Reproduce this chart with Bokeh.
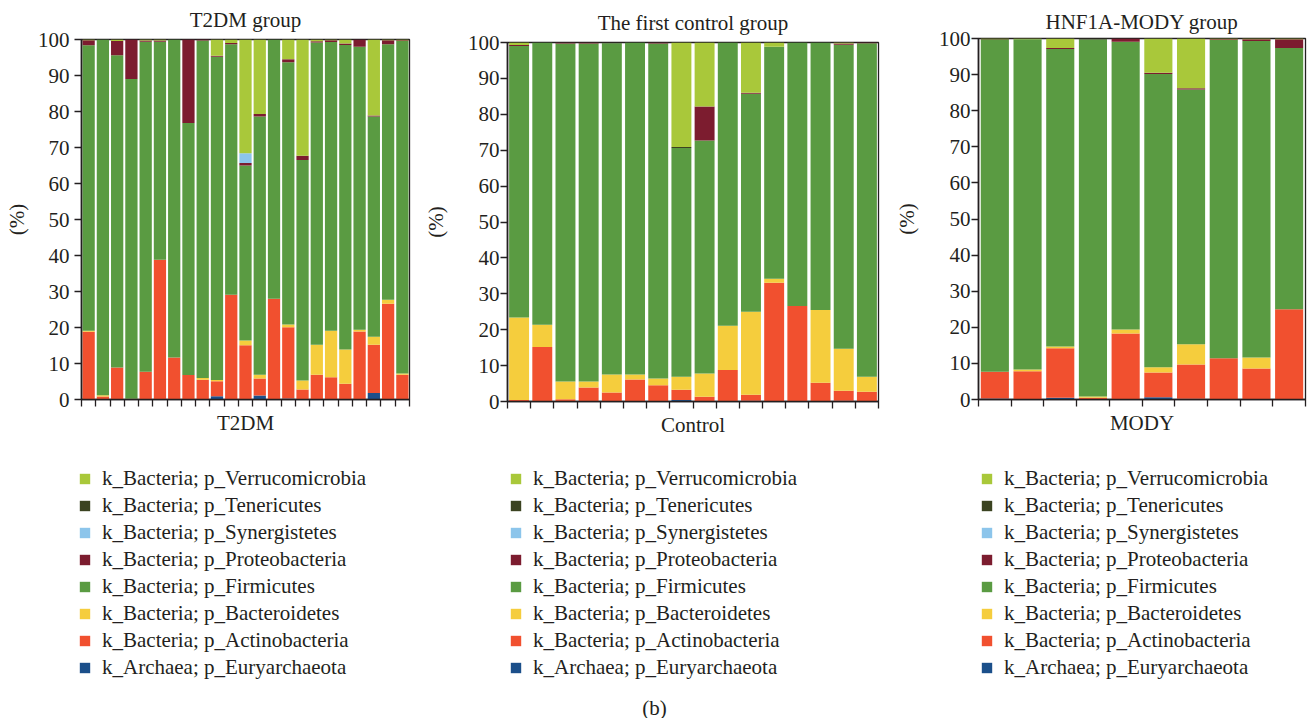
from bokeh.plotting import figure
from bokeh.models import ColumnDataSource, Legend, LegendItem, FixedTicker, Range1d, Label
from bokeh.layouts import row, column
from bokeh.embed import file_html
from bokeh.resources import INLINE

# ---------------- data ----------------
# phyla, bottom of stack to top
PHYLA = ["k_Archaea; p_Euryarchaeota", "k_Bacteria; p_Actinobacteria",
         "k_Bacteria; p_Bacteroidetes", "k_Bacteria; p_Firmicutes",
         "k_Bacteria; p_Proteobacteria", "k_Bacteria; p_Synergistetes",
         "k_Bacteria; p_Tenericutes", "k_Bacteria; p_Verrucomicrobia"]
KEYS = ["eury", "actino", "bact", "firm", "prot", "syn", "ten", "verr"]
COLORS = ["#1B4F8A", "#F1502F", "#F5CD3D", "#5A9B42",
          "#7C1C2F", "#8CC5EB", "#3B4321", "#A9C83A"]

# T2DM group (23 samples)
t2dm_eury = [0, 0, 0, 0, 0, 0, 0, 0, 0, 0.9, 0, 0, 1.1, 0, 0.3, 0, 0, 0, 0, 0, 1.8, 0, 0]
t2dm_actino = [18.8, 0.8, 8.9, 0.2, 7.7, 38.8, 11.7, 6.8, 5.5, 4.2, 29.1, 15.1, 4.7, 28.0, 19.8, 2.8, 6.9, 6.2, 4.4, 18.9, 13.4, 26.6, 6.9]
t2dm_bact = [0.3, 0.4, 0, 0, 0, 0, 0, 0, 0.5, 0.3, 0, 1.3, 1.1, 0, 0.7, 2.5, 8.3, 12.9, 9.5, 0.5, 2.2, 1.1, 0.3]
t2dm_firm = [79.3, 98.8, 86.7, 88.8, 91.7, 60.6, 88.3, 70.0, 93.7, 89.8, 69.6, 48.6, 71.7, 72.0, 72.9, 61.2, 84.0, 80.2, 84.6, 78.6, 61.2, 71.0, 92.4]
t2dm_prot = [1.4, 0, 4.0, 11.0, 0.3, 0.3, 0, 23.2, 0.3, 0.3, 0.3, 0.7, 0.7, 0, 0.8, 1.2, 0.3, 0.5, 0.4, 2.0, 0.3, 1.1, 0.2]
t2dm_syn = [0, 0, 0, 0, 0, 0, 0, 0, 0, 0, 0, 2.7, 0, 0, 0, 0, 0, 0, 0, 0, 0, 0, 0]
t2dm_ten = [0] * 23
t2dm_verr = [0.2, 0, 0.4, 0, 0.3, 0.3, 0, 0, 0, 4.5, 1.0, 31.6, 20.7, 0, 5.5, 32.3, 0.5, 0.2, 1.1, 0, 21.1, 0.2, 0.2]

# first control group (16 samples)
ctrl_eury = [0, 0, 0, 0, 0, 0, 0, 0.4, 0, 0, 0.2, 0, 0, 0, 0.2, 0]
ctrl_actino = [0.4, 15.2, 0.6, 3.9, 2.5, 6.1, 4.5, 2.9, 1.3, 8.8, 1.7, 33.1, 26.6, 5.2, 2.8, 2.7]
ctrl_bact = [23.0, 6.2, 5.0, 1.7, 5.0, 1.4, 1.9, 3.6, 6.5, 12.3, 23.1, 1.1, 0, 20.3, 11.7, 4.2]
ctrl_firm = [75.6, 78.6, 94.1, 94.1, 92.3, 92.5, 93.3, 63.7, 64.9, 78.9, 60.7, 64.6, 73.4, 74.5, 84.7, 92.9]
ctrl_prot = [0.3, 0, 0.3, 0.3, 0, 0, 0.3, 0, 9.5, 0, 0.3, 0, 0, 0, 0.3, 0.2]
ctrl_syn = [0] * 16
ctrl_ten = [0, 0, 0, 0, 0.2, 0, 0, 0.3, 0, 0, 0, 0, 0, 0, 0, 0]
ctrl_verr = [0.7, 0, 0, 0, 0, 0, 0, 29.1, 17.8, 0, 14.0, 1.2, 0, 0, 0.3, 0]

# HNF1A-MODY group (10 samples)
mody_eury = [0.3, 0, 0.5, 0, 0, 0.6, 0.2, 0, 0, 0]
mody_actino = [7.4, 7.8, 13.7, 0.5, 18.3, 6.9, 9.5, 11.4, 8.6, 25.0]
mody_bact = [0, 0.5, 0.5, 0.3, 1.1, 1.4, 5.6, 0, 3.0, 0]
mody_firm = [91.9, 91.5, 82.4, 98.9, 79.7, 81.3, 70.6, 88.2, 87.7, 72.4]
mody_prot = [0, 0, 0.3, 0, 0.9, 0.3, 0.3, 0.2, 0.5, 2.4]
mody_syn = [0] * 10
mody_ten = [0.2, 0, 0, 0.3, 0, 0, 0, 0, 0, 0]
mody_verr = [0.2, 0.2, 2.6, 0, 0, 9.5, 13.8, 0.2, 0.2, 0.2]

Y_TICKS = [0, 10, 20, 30, 40, 50, 60, 70, 80, 90, 100]

FONT = "Liberation Serif"
FS = "21px"
TXT = "#231F20"
TOP_H = 440
LEG_H = 278


def chart(title, xlabel, cols, width, b_left, b_right, b_top, b_bottom,
          title_standoff, tick_standoff, ylab_standoff):
    n = len(cols[0])
    data = {"x": list(range(1, n + 1))}
    for k, c in zip(KEYS, cols):
        data[k] = c
    src = ColumnDataSource(data)
    p = figure(width=width, height=TOP_H, output_backend="svg", toolbar_location=None,
               x_range=Range1d(0.5, n + 0.5), y_range=Range1d(0, 100),
               min_border_left=b_left, min_border_right=b_right,
               min_border_top=b_top, min_border_bottom=b_bottom,
               frame_align=False, title=title)
    p.vbar_stack(KEYS, x="x", width=0.86, source=src, fill_color=COLORS, line_color=None)
    p.grid.visible = False
    p.outline_line_color = TXT
    p.outline_line_width = 1.3

    p.title.align = "center"
    p.title.vertical_align = "middle"
    p.title.text_font = FONT
    p.title.text_font_size = FS
    p.title.text_font_style = "normal"
    p.title.text_color = TXT
    p.title.standoff = title_standoff

    ya = p.yaxis[0]
    ya.ticker = FixedTicker(ticks=Y_TICKS)
    ya.axis_label = "(%)"
    for ax in (p.xaxis[0], ya):
        ax.axis_line_color = TXT
        ax.axis_line_width = 1.6
        ax.major_tick_line_color = TXT
        ax.major_tick_line_width = 1.3
        ax.major_tick_in = 0
        ax.major_tick_out = 7
        ax.minor_tick_line_color = None
        ax.major_label_text_font = FONT
        ax.major_label_text_font_size = FS
        ax.major_label_text_color = TXT
        ax.axis_label_text_font = FONT
        ax.axis_label_text_font_size = FS
        ax.axis_label_text_font_style = "normal"
        ax.axis_label_text_color = TXT
    ya.major_label_standoff = tick_standoff
    ya.axis_label_standoff = ylab_standoff

    xa = p.xaxis[0]
    xa.ticker = FixedTicker(ticks=[i + 0.5 for i in range(0, n + 1)])
    xa.major_label_text_font_size = "0px"
    xa.major_label_text_color = None
    xa.major_label_standoff = 0
    xa.axis_label = xlabel
    xa.axis_label_standoff = 4
    return p, src


def legend_fig(width, src, leg_x, leg_y, caption=None):
    # legend keys: zero-width stacked bars that only carry the phylum colours
    p = figure(width=width, height=LEG_H, output_backend="svg", toolbar_location=None,
               x_range=Range1d(0, width), y_range=Range1d(0, LEG_H),
               x_axis_type=None, y_axis_type=None, frame_align=False,
               min_border_left=0, min_border_right=0, min_border_top=0, min_border_bottom=0)
    p.grid.visible = False
    p.outline_line_color = None
    rs = p.vbar_stack(KEYS, x="x", width=0, source=src, fill_color=COLORS,
                      line_color=None, fill_alpha=1)
    items = [LegendItem(label=name, renderers=[r]) for name, r in zip(PHYLA, rs)]
    items.reverse()
    leg = Legend(items=items, location=(leg_x, leg_y), orientation="vertical",
                 glyph_width=13, glyph_height=13, label_standoff=11, spacing=2,
                 padding=0, margin=0, border_line_color=None, background_fill_alpha=0,
                 label_text_font=FONT, label_text_font_size=FS,
                 label_text_color=TXT, label_height=20, label_text_baseline="middle")
    p.add_layout(leg, "center")
    if caption:
        p.add_layout(Label(x=caption[0], y=caption[1], text=caption[2],
                           text_font=FONT, text_font_size=FS, text_color=TXT,
                           text_align="center", text_baseline="middle"))
    return p


p1, s1 = chart("T2DM group", "T2DM",
               [t2dm_eury, t2dm_actino, t2dm_bact, t2dm_firm, t2dm_prot, t2dm_syn, t2dm_ten, t2dm_verr],
               419, 81, 10, 39, 41, 13, 5, 6)
p2, s2 = chart("The first control group", "Control",
               [ctrl_eury, ctrl_actino, ctrl_bact, ctrl_firm, ctrl_prot, ctrl_syn, ctrl_ten, ctrl_verr],
               471, 88, 12, 42, 39, 13, 1, 17)
p3, s3 = chart("HNF1A-MODY group", "MODY",
               [mody_eury, mody_actino, mody_bact, mody_firm, mody_prot, mody_syn, mody_ten, mody_verr],
               423, 88, 8, 38, 41, 8, 1, 17)

l1 = legend_fig(419, s1, 78, 38)
l2 = legend_fig(471, s2, 90, 38, caption=(235, 11, "(b)"))
l3 = legend_fig(423, s3, 90, 38)

layout = column(row(p1, p2, p3), row(l1, l2, l3))
open("out.html", "w").write(file_html(layout, INLINE))
